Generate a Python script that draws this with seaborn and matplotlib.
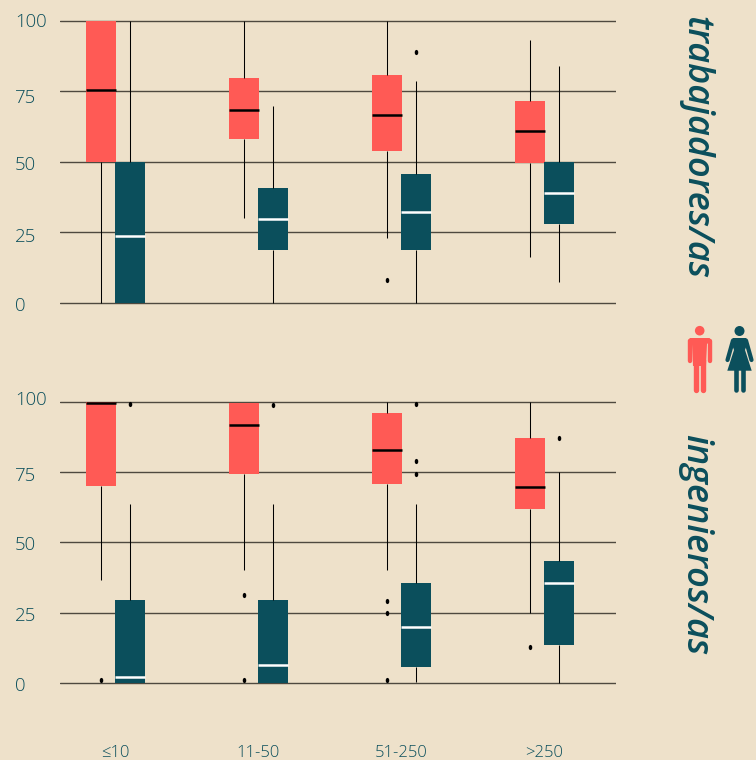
import matplotlib
matplotlib.use("Agg")
import matplotlib.pyplot as plt
import seaborn as sns
import pandas as pd
from matplotlib.path import Path
from matplotlib.patches import Circle, Polygon
from matplotlib.transforms import Affine2D, ScaledTranslation

# Data: each box is [whisker low, Q1, median, Q3, whisker high]
categories = ["≤10", "11-50", "51-250", ">250"]
genders = ["hombres", "mujeres"]
yticks = [0, 25, 50, 75, 100]

trab_hombres = [[0, 50, 75.3, 100, 100], [30, 58, 68.5, 79.7, 100],
                [23.1, 53.8, 66.7, 80.8, 100], [16.3, 49.7, 60.9, 71.6, 93]]
trab_mujeres = [[0, 0, 23.7, 50, 100], [0, 18.9, 29.8, 40.7, 69.8],
                [0, 18.9, 32.2, 45.7, 78.6], [7.3, 28.1, 39, 50, 84]]
ing_hombres = [[36.5, 70.1, 99.6, 100, 100], [40.3, 74.4, 91.8, 99.5, 99.5],
               [40.3, 70.7, 82.7, 96, 100], [25, 62, 69.6, 87, 100]]
ing_mujeres = [[0, 0, 1.9, 29.4, 63.5], [0, 0, 6.4, 29.4, 63.5],
               [0.4, 5.7, 19.7, 35.5, 63.5], [0, 13.4, 35.6, 43.3, 75]]

# Outliers per category
trab_out_h = [[], [], [8.1], []]
trab_out_m = [[], [], [89], []]
ing_out_h = [[1], [31.4, 1], [29, 25, 1], [12.6]]
ing_out_m = [[99.3], [99], [99.3, 78.9, 74.3], [87]]

BG = "#EEE1CA"
RED = "#FF5A55"
TEAL = "#0B4F5C"
GRID = "#4E493F"
FONT = ["Open Sans", "DejaVu Sans"]
W, H = 756, 760

sns.set_style("white")
plt.rcParams["font.family"] = FONT
fig = plt.figure(figsize=(W / 100, H / 100), dpi=100, facecolor=BG)


def frame(boxes_h, boxes_m):
    rows = []
    for g, boxes in zip(genders, (boxes_h, boxes_m)):
        for c, vals in zip(categories, boxes):
            rows += [{"cat": c, "g": g, "v": v} for v in vals]
    return pd.DataFrame(rows)


flier = Affine2D().scale(0.68, 1).transform_path(Path.unit_circle())
BOX_W = 0.405


def panel(top_px, zero_px, boxes_h, boxes_m, out_h, out_m, show_x, label_dy):
    ppu = (zero_px - top_px) / 100
    y0 = (H - zero_px - ppu * 2) / H
    h = (ppu * 104) / H
    ax = fig.add_axes([60 / W, y0, 556 / W, h], facecolor="none")
    sns.boxplot(data=frame(boxes_h, boxes_m), x="cat", y="v", hue="g",
                order=categories, hue_order=genders,
                palette=[RED, TEAL], saturation=1, width=BOX_W, gap=-0.035,
                whis=(0, 100), fliersize=0, linewidth=0.75, linecolor="black",
                showcaps=False, boxprops={"linewidth": 0},
                medianprops={"linewidth": 1.8}, legend=False, ax=ax)
    for cont, col in zip(ax.containers, ["black", "white"]):
        for m in cont.medians:
            m.set_color(col)
            m.set_solid_capstyle("butt")
    for sign, outs in ((-1, out_h), (1, out_m)):
        for i, vals in enumerate(outs):
            if vals:
                ax.scatter([i + sign * BOX_W / 4] * len(vals), vals, marker=flier,
                           s=14, color="black", linewidths=0, zorder=5)
    ax.set_ylim(-2, 102)
    ax.set_xlim(-0.388, 3.5)
    ax.set_yticks(yticks)
    ax.set_xlabel("")
    ax.set_ylabel("")
    ax.yaxis.grid(True, color=GRID, lw=1.0)
    ax.xaxis.grid(False)
    ax.set_axisbelow(True)
    for s in ax.spines.values():
        s.set_visible(False)
    ax.tick_params(axis="y", length=0, pad=32.5, labelsize=13.4, labelcolor=TEAL)
    ax.tick_params(axis="x", length=0, labelsize=12, labelcolor=TEAL,
                   labelbottom=show_x, pad=41)
    for lab, dy in zip(ax.get_yticklabels(), label_dy):
        lab.set_ha("left")
        lab.set_fontweight(300)
        lab.set_transform(lab.get_transform()
                          + ScaledTranslation(0, -dy / 100, fig.dpi_scale_trans))
    for lab in ax.get_xticklabels():
        lab.set_fontweight(300)
    return ax


# label_dy: downward offset of each y tick label, in pixels (0, 25, 50, 75, 100)
panel(20.7, 303, trab_hombres, trab_mujeres, trab_out_h, trab_out_m, False, [1, 3, 1, 5, -1])
panel(401.7, 682.8, ing_hombres, ing_mujeres, ing_out_h, ing_out_m, True, [1, 1, 1, 2, -4])

# Side titles
fig.text(695 / W, 1 - 148 / H, "trabajadores/as", rotation=-90, ha="center", va="center",
         color=TEAL, fontsize=26, fontweight=600, style="italic", family=FONT)
fig.text(695 / W, 1 - 544.5 / H, "ingenieros/as", rotation=-90, ha="center", va="center",
         color=TEAL, fontsize=26, fontweight=600, style="italic", family=FONT)

# Pictograms, in pixel space
ov = fig.add_axes([0, 0, 1, 1], facecolor="none")
ov.set_xlim(0, W)
ov.set_ylim(H, 0)
ov.axis("off")
PX = 0.72


def limb(x, y, col, wpx):
    ov.plot(x, y, color=col, lw=wpx * PX, solid_capstyle="round", solid_joinstyle="round")


# man
ov.add_patch(Circle((699.7, 330.7), 4.8, color=RED, lw=0))
ov.add_patch(Polygon([(690, 338), (709.5, 338), (711.7, 340.5), (707, 344), (706, 366),
                      (693, 366), (692, 344), (687.7, 340.5)], color=RED, lw=0))
limb([690, 690], [341, 361], RED, 4.4)
limb([709.5, 709.5], [341, 361], RED, 4.4)
limb([696, 696], [360, 389.5], RED, 5.4)
limb([703, 703], [360, 389.5], RED, 5.4)
# woman
ov.add_patch(Circle((739.5, 331), 5, color=TEAL, lw=0))
ov.add_patch(Polygon([(733, 338), (746, 338), (748, 342), (745, 350), (751.7, 370.7),
                      (727.3, 370.7), (734, 350), (731, 342)], color=TEAL, lw=0))
limb([733, 727.5], [340.5, 360], TEAL, 4.2)
limb([746, 751.5], [340.5, 360], TEAL, 4.2)
limb([736.2, 736.2], [368, 389.5], TEAL, 4.6)
limb([742.8, 742.8], [368, 389.5], TEAL, 4.6)

fig.savefig("out.png", dpi=100, facecolor=BG)
